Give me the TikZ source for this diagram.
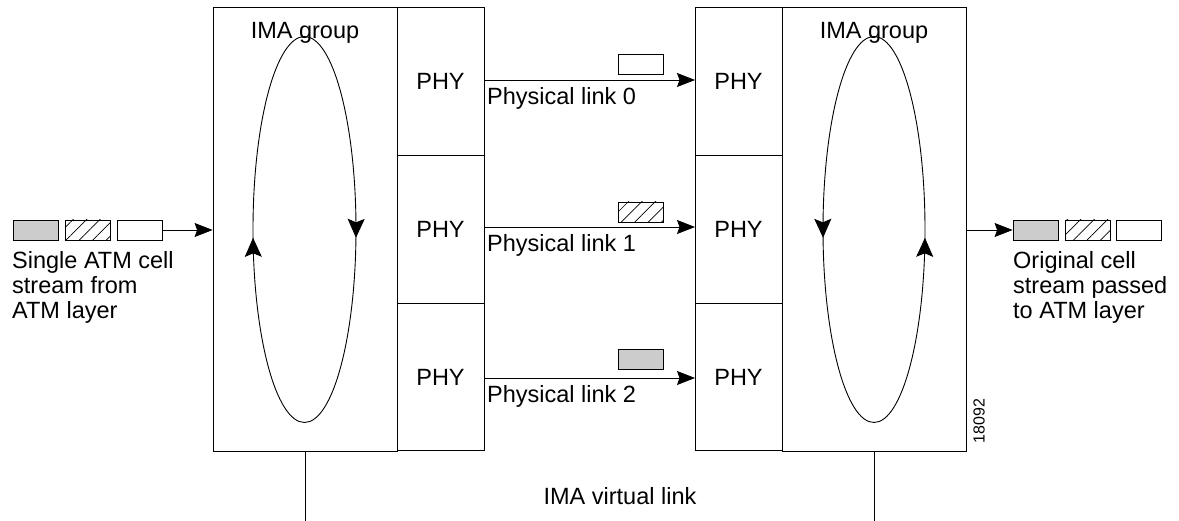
\documentclass[tikz,border=0pt]{standalone}
\usepackage{fontspec}
\setmainfont{Liberation Sans}
\usetikzlibrary{arrows.meta,patterns.meta,decorations.markings}

\tikzset{
  every node/.style = {font=\fontsize{23.5}{25}\selectfont, inner sep=0pt},
  box/.style = {draw, line width=0.8pt},
  phybox/.style = {box, minimum width=87, minimum height=147.8},
  cellbox/.style = {draw, line width=0.8pt, minimum width=45, minimum height=20},
  hatch/.style = {pattern={Lines[angle=45,distance=9.5pt,line width=0.7pt]}},
  link/.style = {line width=0.8pt, -{Stealth[length=18pt,width=14pt,inset=2.5pt]}},
  loop/.style = {line width=0.9pt, postaction={decorate}},
}
\newcommand{\looptip}{Stealth[length=19pt,width=17pt,inset=3.5pt]}

\begin{document}
\begin{tikzpicture}[x=1pt, y=-1pt]
  \useasboundingbox (0,0) rectangle (1179,521);

  % IMA group boxes
  \node [box, minimum width=184, minimum height=443.5] (grpL) at (305,229.2) {};
  \node [box, minimum width=184, minimum height=443.5] (grpR) at (874,229.2) {};
  \node (titleL) at (305,33) {IMA group};
  \node (titleR) at (874,33) {IMA group};

  % PHY columns
  \foreach \i/\y in {0/81.4, 1/229.2, 2/377} {
    \node [phybox] (phyL\i) at (440.5,\y) {PHY};
    \node [phybox] (phyR\i) at (738.5,\y) {PHY};
  }

  % round-robin loops
  \draw [loop, decoration={markings,
      mark=at position 0.01 with {\arrow{\looptip}},
      mark=at position 0.49 with {\arrow{\looptip}}}]
    (304.5,229.5) ellipse [x radius=51.5, y radius=193];
  \draw [loop, decoration={markings,
      mark=at position 0.01 with {\arrowreversed{\looptip}},
      mark=at position 0.49 with {\arrowreversed{\looptip}}}]
    (874,229.5) ellipse [x radius=51, y radius=193];

  % physical links
  \foreach \i/\y in {0/80, 1/227, 2/378} {
    \coordinate (srcL\i) at (484,\y);
    \coordinate (dstR\i) at (695,\y);
    \draw [link] (srcL\i) -- (dstR\i);
    \node [anchor=north west] (lnk\i) at (487,\y+7) {Physical link \i};
  }
  \node [cellbox] (c0) at (640.5,64) {};
  \node [cellbox, hatch] (c1) at (640.5,212) {};
  \node [cellbox, fill=black!20] (c2) at (640.5,359.5) {};

  % cell stream in
  \node [cellbox, fill=black!20] (inA) at (36,230) {};
  \node [cellbox, hatch] (inB) at (88,230) {};
  \node [cellbox] (inC) at (139.5,230) {};
  \draw [link] (inC.east) -- (grpL.west |- inC.east);
  \node [anchor=north west, align=left] (inTxt) at (12,251) {Single ATM cell\\stream from\\ATM layer};

  % cell stream out
  \node [cellbox, fill=black!20] (outA) at (1035.5,230) {};
  \node [cellbox, hatch] (outB) at (1087.5,230) {};
  \node [cellbox] (outC) at (1139,230) {};
  \draw [link] (grpR.east |- outA.west) -- (outA.west);
  \node [anchor=north west, align=left] (outTxt) at (1013,251) {Original cell\\stream passed\\to ATM layer};

  % virtual link
  \coordinate (vlL) at (305,521);
  \coordinate (vlR) at (874,521);
  \draw [line width=0.8pt] (grpL.south) -- (vlL);
  \draw [line width=0.8pt] (grpR.south) -- (vlR);
  \node (vl) at (620,496) {IMA virtual link};

  \node [rotate=90, font=\fontsize{16}{18}\selectfont] (fig) at (979,421) {18092};
\end{tikzpicture}
\end{document}
